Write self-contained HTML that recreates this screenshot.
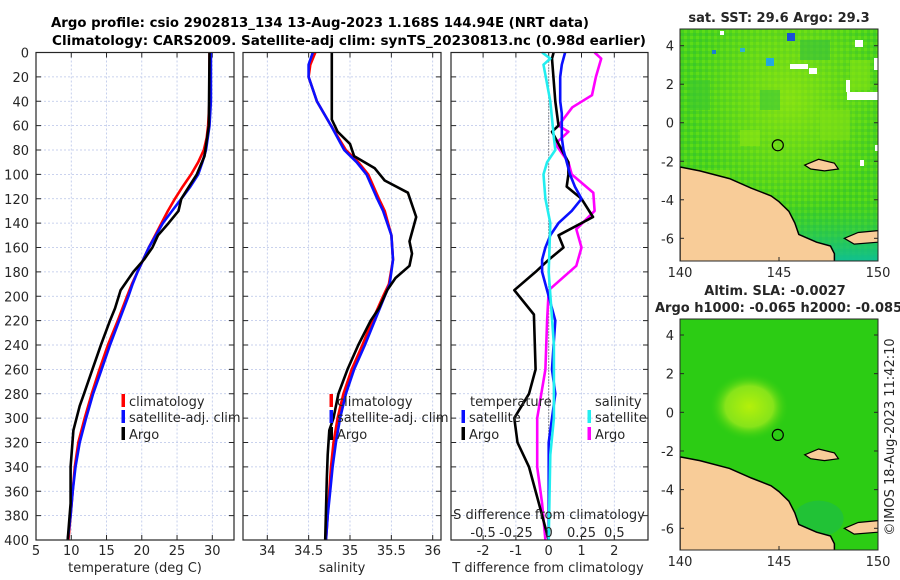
<!DOCTYPE html>
<html><head><meta charset="utf-8"><style>
html,body{margin:0;padding:0;background:#fff;}
svg{display:block;font-family:"DejaVu Sans","Liberation Sans",sans-serif;}
</style></head><body>
<svg id="fig" width="900" height="580" viewBox="0 0 900 580" xmlns="http://www.w3.org/2000/svg">
<defs>
<pattern id="sstTex" width="6" height="6" patternUnits="userSpaceOnUse">
<rect width="6" height="6" fill="#48d21c"/><rect width="3" height="3" fill="#5cdc18"/><rect x="3" y="3" width="3" height="3" fill="#3cc828"/>
</pattern>
<radialGradient id="sstLight" cx="0.55" cy="0.3" r="0.5"><stop offset="0" stop-color="#9ee810" stop-opacity="0.7"/><stop offset="1" stop-color="#9ee810" stop-opacity="0"/></radialGradient>
<radialGradient id="slaBlob" cx="0.5" cy="0.5" r="0.5"><stop offset="0" stop-color="#b4f00a"/><stop offset="0.6" stop-color="#86e41a"/><stop offset="1" stop-color="#2ecc10" stop-opacity="0"/></radialGradient>
<linearGradient id="tealG" x1="0" y1="0" x2="0" y2="1"><stop offset="0" stop-color="#22c840" stop-opacity="0"/><stop offset="1" stop-color="#10c090"/></linearGradient>
<clipPath id="clipTop"><rect x="680" y="29" width="198" height="232"/></clipPath>
<clipPath id="clipBot"><rect x="680" y="319" width="198" height="231"/></clipPath>
</defs>
<g id="titles">
<text x="320" y="27" text-anchor="middle" font-size="13" font-weight="bold" textLength="538" lengthAdjust="spacingAndGlyphs">Argo profile: csio 2902813_134 13-Aug-2023 1.168S 144.94E (NRT data)</text>
<text x="349" y="45" text-anchor="middle" font-size="13" font-weight="bold" textLength="594" lengthAdjust="spacingAndGlyphs">Climatology: CARS2009. Satellite-adj clim: synTS_20230813.nc (0.98d earlier)</text>
</g>
<g id="plots"></g>
<g id="maps"></g>
</svg>
<script>
// ---------- Data ----------
const depthTicks=[0,20,40,60,80,100,120,140,160,180,200,220,240,260,280,300,320,340,360,380,400];
const tTicks=[5,10,15,20,25,30];
const sTicks=[34,34.5,35,35.5,36];
const dTTicks=[-2,-1,0,1,2];
const dSTickLabels=["-0.5","-0.25","0","0.25","0.5"];
const dSTicks=[-0.5,-0.25,0,0.25,0.5];

const tClimDepth=[0,20,40,60,70,80,90,100,110,120,130,140,150,160,170,180,190,200,220,240,260,280,300,320,340,360,380,400];
const tClim=[29.6,29.6,29.6,29.4,29.2,28.8,28.0,27.0,25.8,24.7,23.7,22.8,21.9,21.0,20.2,19.4,18.6,17.9,16.6,15.2,14.0,12.9,11.9,11.0,10.5,10.2,9.9,9.6];
const tSatDepth=[0,20,40,60,80,90,100,110,120,130,140,150,160,170,180,190,200,220,240,260,280,300,320,340,360,380,400];
const tSat=[29.8,29.8,29.8,29.6,29.1,28.6,28.0,26.9,25.6,24.3,23.0,22.0,21.0,20.2,19.4,18.7,18.1,16.8,15.5,14.3,13.1,12.1,11.2,10.6,10.2,9.9,9.5];
const tArgoDepth=[0,60,85,100,110,120,130,140,150,160,170,180,195,210,220,240,260,280,290,310,340,370,400];
const tArgo=[29.6,29.5,28.9,27.8,26.7,25.6,25.2,23.8,22.3,21.5,20.3,18.8,17.0,16.2,15.5,14.2,13.0,11.8,11.2,10.3,9.9,9.9,9.5];

const sClimDepth=[0,10,20,40,60,80,90,100,120,130,150,170,190,200,220,240,260,280,300,320,340,360,380,400];
const sClim=[34.58,34.52,34.5,34.6,34.77,34.95,35.1,35.22,35.35,35.42,35.5,35.52,35.47,35.4,35.27,35.15,35.02,34.92,34.85,34.8,34.77,34.75,34.73,34.71];
const sSatDepth=[0,10,20,40,60,80,90,100,120,130,150,170,190,200,220,240,260,280,300,320,340,360,380,400];
const sSat=[34.55,34.5,34.5,34.6,34.77,34.93,35.08,35.2,35.33,35.4,35.5,35.52,35.48,35.42,35.3,35.18,35.05,34.95,34.88,34.83,34.79,34.76,34.73,34.71];
const sArgoDepth=[0,55,65,75,85,95,105,115,135,155,165,175,185,195,210,220,240,260,280,300,310,330,350,400];
const sArgo=[34.78,34.78,34.85,35.0,35.05,35.3,35.42,35.7,35.8,35.72,35.75,35.72,35.55,35.45,35.35,35.25,35.1,34.97,34.86,34.8,34.75,34.73,34.72,34.7];

const dTSatDepth=[0,10,20,40,50,60,70,80,100,110,120,130,140,150,160,170,180,190,200,220,240,260,280,300,320,360,400];
const dTSat=[0.5,0.4,0.35,0.35,0.4,0.4,0.4,0.45,0.65,0.8,1.0,0.7,0.3,0.05,-0.1,-0.2,-0.2,-0.1,0,0.2,0.15,0.1,0.2,0.1,0.0,0.0,0.0];
const dTArgoDepth=[0,5,40,60,65,80,90,100,110,120,135,150,160,170,180,195,215,260,280,300,320,340,370,390,400];
const dTArgo=[0.15,0.1,0.2,0.3,0.1,0.4,0.6,0.6,0.55,1.0,1.35,0.3,0.45,0.0,-0.4,-1.05,-0.45,-0.4,-0.6,-1.05,-0.95,-0.6,-0.3,-0.1,0];
const dSSatDepth=[0,5,10,40,70,80,90,100,120,140,180,240,300,330,400];
const dSSat=[-0.05,0.012,-0.04,0.012,0.04,0.05,-0.012,-0.04,-0.025,0.012,0,0.04,0.04,0.012,0];
const dSArgoDepth=[0,5,20,35,45,60,65,75,90,100,115,130,145,160,175,195,220,260,300,320,340,370,400];
const dSArgo=[0.35,0.4,0.36,0.33,0.18,0.075,0.15,0.05,0.15,0.175,0.34,0.35,0.21,0.25,0.21,0,-0.012,-0.025,-0.088,-0.088,-0.088,-0.05,-0.025];

// ---------- Helpers ----------
const NS="http://www.w3.org/2000/svg";
function mk(tag,attrs,parent){const e=document.createElementNS(NS,tag);for(const k in attrs)e.setAttribute(k,attrs[k]);parent.appendChild(e);return e;}
const Y0=52.5, Y1=540;
function yD(d){return Y0+(d/400)*(Y1-Y0);}
function lin(d0,d1,r0,r1){return v=>r0+(v-d0)/(d1-d0)*(r1-r0);}
const xT=lin(5,30,36,212.3);
const xS=lin(34,36,267.3,432.7);
const xDT=lin(0,2,548.7,614.3);
const xDS=lin(0,0.5,548.7,614.3);
const plots=document.getElementById('plots');

function panel(x0,x1,xTicksArr,xfn,name){
  const g=mk('g',{},plots);
  
  
  depthTicks.forEach(d=>{const l=mk('line',{x1:x0,x2:x1,y1:yD(d),y2:yD(d),stroke:'#b8c4e8','stroke-width':0.8,'stroke-dasharray':'2,2'},g);
    });
  xTicksArr.forEach(v=>{const x=xfn(v);const l=mk('line',{x1:x,x2:x,y1:Y0,y2:Y1,stroke:'#b8c4e8','stroke-width':0.8,'stroke-dasharray':'2,2'},g);
    
    mk('line',{x1:x,x2:x,y1:Y0,y2:Y0+5,stroke:'#262626'},g);mk('line',{x1:x,x2:x,y1:Y1,y2:Y1-5,stroke:'#262626'},g);});
  depthTicks.forEach(d=>{mk('line',{x1:x0,x2:x0+5,y1:yD(d),y2:yD(d),stroke:'#262626'},g);mk('line',{x1:x1,x2:x1-5,y1:yD(d),y2:yD(d),stroke:'#262626'},g);});
  return g;
}
function frame(g,x0,x1){const r=mk('rect',{x:x0,y:Y0,width:x1-x0,height:Y1-Y0,fill:'none',stroke:'#262626','stroke-width':1.2},g);
  }
function line(g,xs,ds,xfn,color,name,w){
  const pts=xs.map((v,i)=>xfn(v).toFixed(1)+','+yD(ds[i]).toFixed(1)).join(' ');
  const p=mk('polyline',{points:pts,fill:'none',stroke:color,'stroke-width':w||2.6,'stroke-linejoin':'round'},g);
  
}
function txt(g,x,y,s,opts,name){const t=mk('text',Object.assign({x:x,y:y,'font-size':13,fill:'#262626'},opts||{}),g);t.textContent=s;
  return t;}
function legendItem(g,x,y,color,label,name){
  const m=mk('rect',{x:x-1.5,y:y-7,width:3.5,height:13,fill:color},g);
  
  txt(g,x+6,y+5,label,{},name);
}

// depth labels
const yl=mk('g',{},plots);


depthTicks.forEach(d=>txt(yl,29,yD(d)+5,String(d),{'text-anchor':'end'},'depth-tick-label'));

// Panel 1 temperature
let g1=panel(36,234,tTicks,xT,'temperature-panel');
line(g1,tClim,tClimDepth,xT,'#ff0000','temperature-climatology-line');
line(g1,tSat,tSatDepth,xT,'#0a10ff','temperature-satellite-line');
line(g1,tArgo,tArgoDepth,xT,'#000000','temperature-argo-line');
frame(g1,36,234);
tTicks.forEach(v=>txt(g1,xT(v),555,String(v),{'text-anchor':'middle'},'temperature-tick-label'));
txt(g1,135,572,'temperature (deg C)',{'text-anchor':'middle'},'temperature-axis-title');
legendItem(g1,123,401,'#ff0000','climatology','legend-climatology');
legendItem(g1,123,417,'#0a10ff','satellite-adj. clim','legend-satellite-adj');
legendItem(g1,123,434,'#000000','Argo','legend-argo');

// Panel 2 salinity
let g2=panel(243,441,sTicks,xS,'salinity-panel');
line(g2,sClim,sClimDepth,xS,'#ff0000','salinity-climatology-line');
line(g2,sSat,sSatDepth,xS,'#0a10ff','salinity-satellite-line');
line(g2,sArgo,sArgoDepth,xS,'#000000','salinity-argo-line');
frame(g2,243,441);
sTicks.forEach(v=>txt(g2,xS(v),555,String(v),{'text-anchor':'middle'},'salinity-tick-label'));
txt(g2,342,572,'salinity',{'text-anchor':'middle'},'salinity-axis-title');
legendItem(g2,331,401,'#ff0000','climatology','legend-climatology');
legendItem(g2,331,417,'#0a10ff','satellite-adj. clim','legend-satellite-adj');
legendItem(g2,331,434,'#000000','Argo','legend-argo');

// Panel 3 differences
let g3=panel(451,648,dTTicks,xDT,'difference-panel');
const zl=mk('line',{x1:xDT(0),x2:xDT(0),y1:Y0,y2:Y1,stroke:'#333','stroke-width':1,'stroke-dasharray':'1,2'},g3);

line(g3,dSArgo,dSArgoDepth,xDS,'#ff00ff','salinity-argo-diff-line');
line(g3,dTArgo,dTArgoDepth,xDT,'#000000','temperature-argo-diff-line');
line(g3,dTSat,dTSatDepth,xDT,'#0a10ff','temperature-satellite-diff-line');
line(g3,dSSat,dSSatDepth,xDS,'#22eef0','salinity-satellite-diff-line');
frame(g3,451,648);
dTTicks.forEach(v=>txt(g3,xDT(v),555,String(v),{'text-anchor':'middle'},'t-diff-tick-label'));
txt(g3,548,572,'T difference from climatology',{'text-anchor':'middle'},'t-diff-axis-title');
txt(g3,549,519,'S difference from climatology',{'text-anchor':'middle'},'s-diff-axis-title');
dSTicks.forEach((v,i)=>txt(g3,xDS(v),537,dSTickLabels[i],{'text-anchor':'middle'},'s-diff-tick-label'));
txt(g3,470,406,'temperature',{},'legend-temperature-heading');
legendItem(g3,463,417,'#0a10ff','satellite','legend-temperature-satellite');
legendItem(g3,463,434,'#000000','Argo','legend-temperature-argo');
txt(g3,595,406,'salinity',{},'legend-salinity-heading');
legendItem(g3,589,417,'#22eef0','satellite','legend-salinity-satellite');
legendItem(g3,589,434,'#ff00ff','Argo','legend-salinity-argo');

// ---------- Maps ----------
const maps=document.getElementById('maps');
const lonTicks=[140,145,150];
const latTicks=[4,2,0,-2,-4,-6];
function mapPanel(top,bottom,lat4y,latm6y,kind){
  const g=mk('g',{},maps);
  
  
  const X=lin(140,150,680,878), Y=lin(4,-6,lat4y,latm6y);
  const cg=mk('g',{'clip-path':'url(#'+(kind==='sst'?'clipTop':'clipBot')+')'},g);
  if(kind==='sst'){
    mk('rect',{x:680,y:top,width:198,height:bottom-top,fill:'url(#sstTex)'},cg);
    mk('rect',{x:680,y:top,width:198,height:bottom-top,fill:'url(#sstLight)'},cg);
    [[700,170,30,20,'#7ee018'],[740,130,20,16,'#8ce414'],[820,110,30,30,'#80e016'],[690,80,20,30,'#3cc830'],[850,60,20,30,'#86e214'],[760,90,20,20,'#3ac838'],[800,40,30,20,'#34c03c']].forEach(r=>{
      mk('rect',{x:r[0],y:r[1],width:r[2],height:r[3],fill:r[4],opacity:0.6},cg);});
    [[787,33,8,8,'#1a4fd6'],[766,58,8,8,'#22a8e0'],[712,50,4,4,'#1a80d0'],[740,48,5,4,'#30b0d0'],[790,64,18,5,'#fff'],[809,68,8,6,'#fff'],[855,40,8,7,'#fff'],[874,58,4,12,'#fff'],[847,92,31,8,'#fff'],[720,31,4,4,'#fff'],[846,80,4,12,'#fff'],[860,160,4,6,'#fff'],[875,145,4,6,'#fff']].forEach(r=>{
      mk('rect',{x:r[0],y:r[1],width:r[2],height:r[3],fill:r[4]},cg);});
    mk('rect',{x:790,y:200,width:88,height:61,fill:'url(#tealG)'},cg);
  } else {
    mk('rect',{x:680,y:top,width:198,height:bottom-top,fill:'#2ccc14'},cg);
    mk('ellipse',{cx:X(143.5),cy:Y(0.3),rx:40,ry:34,fill:'url(#slaBlob)'},cg);
    mk('ellipse',{cx:X(147),cy:Y(-5.5),rx:25,ry:18,fill:'#16b858',opacity:0.5},cg);
  }
  // land (coast of New Guinea)
  const coast=[[140,-2.3],[141,-2.5],[142.5,-2.9],[143.6,-3.4],[144.6,-3.8],[145,-4.1],[145.5,-4.6],[145.8,-5.2],[146,-5.8],[146.9,-6.2],[147.6,-6.4],[147.8,-6.8],[147.8,-7.3],[140,-7.3]];
  const pts=coast.map(p=>X(p[0]).toFixed(1)+','+Y(p[1]).toFixed(1)).join(' ');
  const land=mk('polygon',{points:pts,fill:'#f8cc98',stroke:'#000','stroke-width':1.5},cg);
  
  const pen=[[150,-5.6],[149,-5.7],[148.3,-6.0],[148.8,-6.3],[150,-6.2]];
  const p2=mk('polygon',{points:pen.map(p=>X(p[0]).toFixed(1)+','+Y(p[1]).toFixed(1)).join(' '),fill:'#f8cc98',stroke:'#000','stroke-width':1.2},cg);
  
  const isl=[[146.3,-2.2],[147,-1.9],[147.8,-2.1],[148,-2.4],[147.3,-2.5],[146.6,-2.4]];
  const p3=mk('polygon',{points:isl.map(p=>X(p[0]).toFixed(1)+','+Y(p[1]).toFixed(1)).join(' '),fill:'#f8cc98',stroke:'#000','stroke-width':1.2},cg);
  
  const c=mk('circle',{cx:X(144.94),cy:Y(-1.168),r:5.5,fill:'none',stroke:'#000','stroke-width':1.2},g);
  
  const fr=mk('rect',{x:680,y:top,width:198,height:bottom-top,fill:'none',stroke:'#262626','stroke-width':1},g);
  
  latTicks.forEach(v=>{const y=Y(v);mk('line',{x1:680,x2:684,y1:y,y2:y,stroke:'#262626'},g);mk('line',{x1:878,x2:874,y1:y,y2:y,stroke:'#262626'},g);
    txt(g,674,y+5,String(v),{'text-anchor':'end'},'latitude-tick-label');});
  lonTicks.forEach(v=>{const x=X(v);mk('line',{x1:x,x2:x,y1:bottom,y2:bottom-4,stroke:'#262626'},g);
    txt(g,x,bottom+16,String(v),{'text-anchor':'middle'},'longitude-tick-label');});
  return g;
}
const gm1=mapPanel(29,261,45.7,238.3,'sst');
txt(gm1,779,22,'sat. SST: 29.6 Argo: 29.3',{'text-anchor':'middle','font-weight':'bold'},'sst-map-title');
const gm2=mapPanel(319,550,335,528.3,'sla');
txt(gm2,775,295,'Altim. SLA: -0.0027',{'text-anchor':'middle','font-weight':'bold'},'sla-map-title');
txt(gm2,655,312,'Argo h1000: -0.065 h2000: -0.085',{'font-weight':'bold'},'sla-map-subtitle');
const cr=txt(maps,894,437,'©IMOS 18-Aug-2023 11:42:10',{'text-anchor':'middle',transform:'rotate(-90 894 437)'},'copyright-timestamp');
</script>
</body></html>
